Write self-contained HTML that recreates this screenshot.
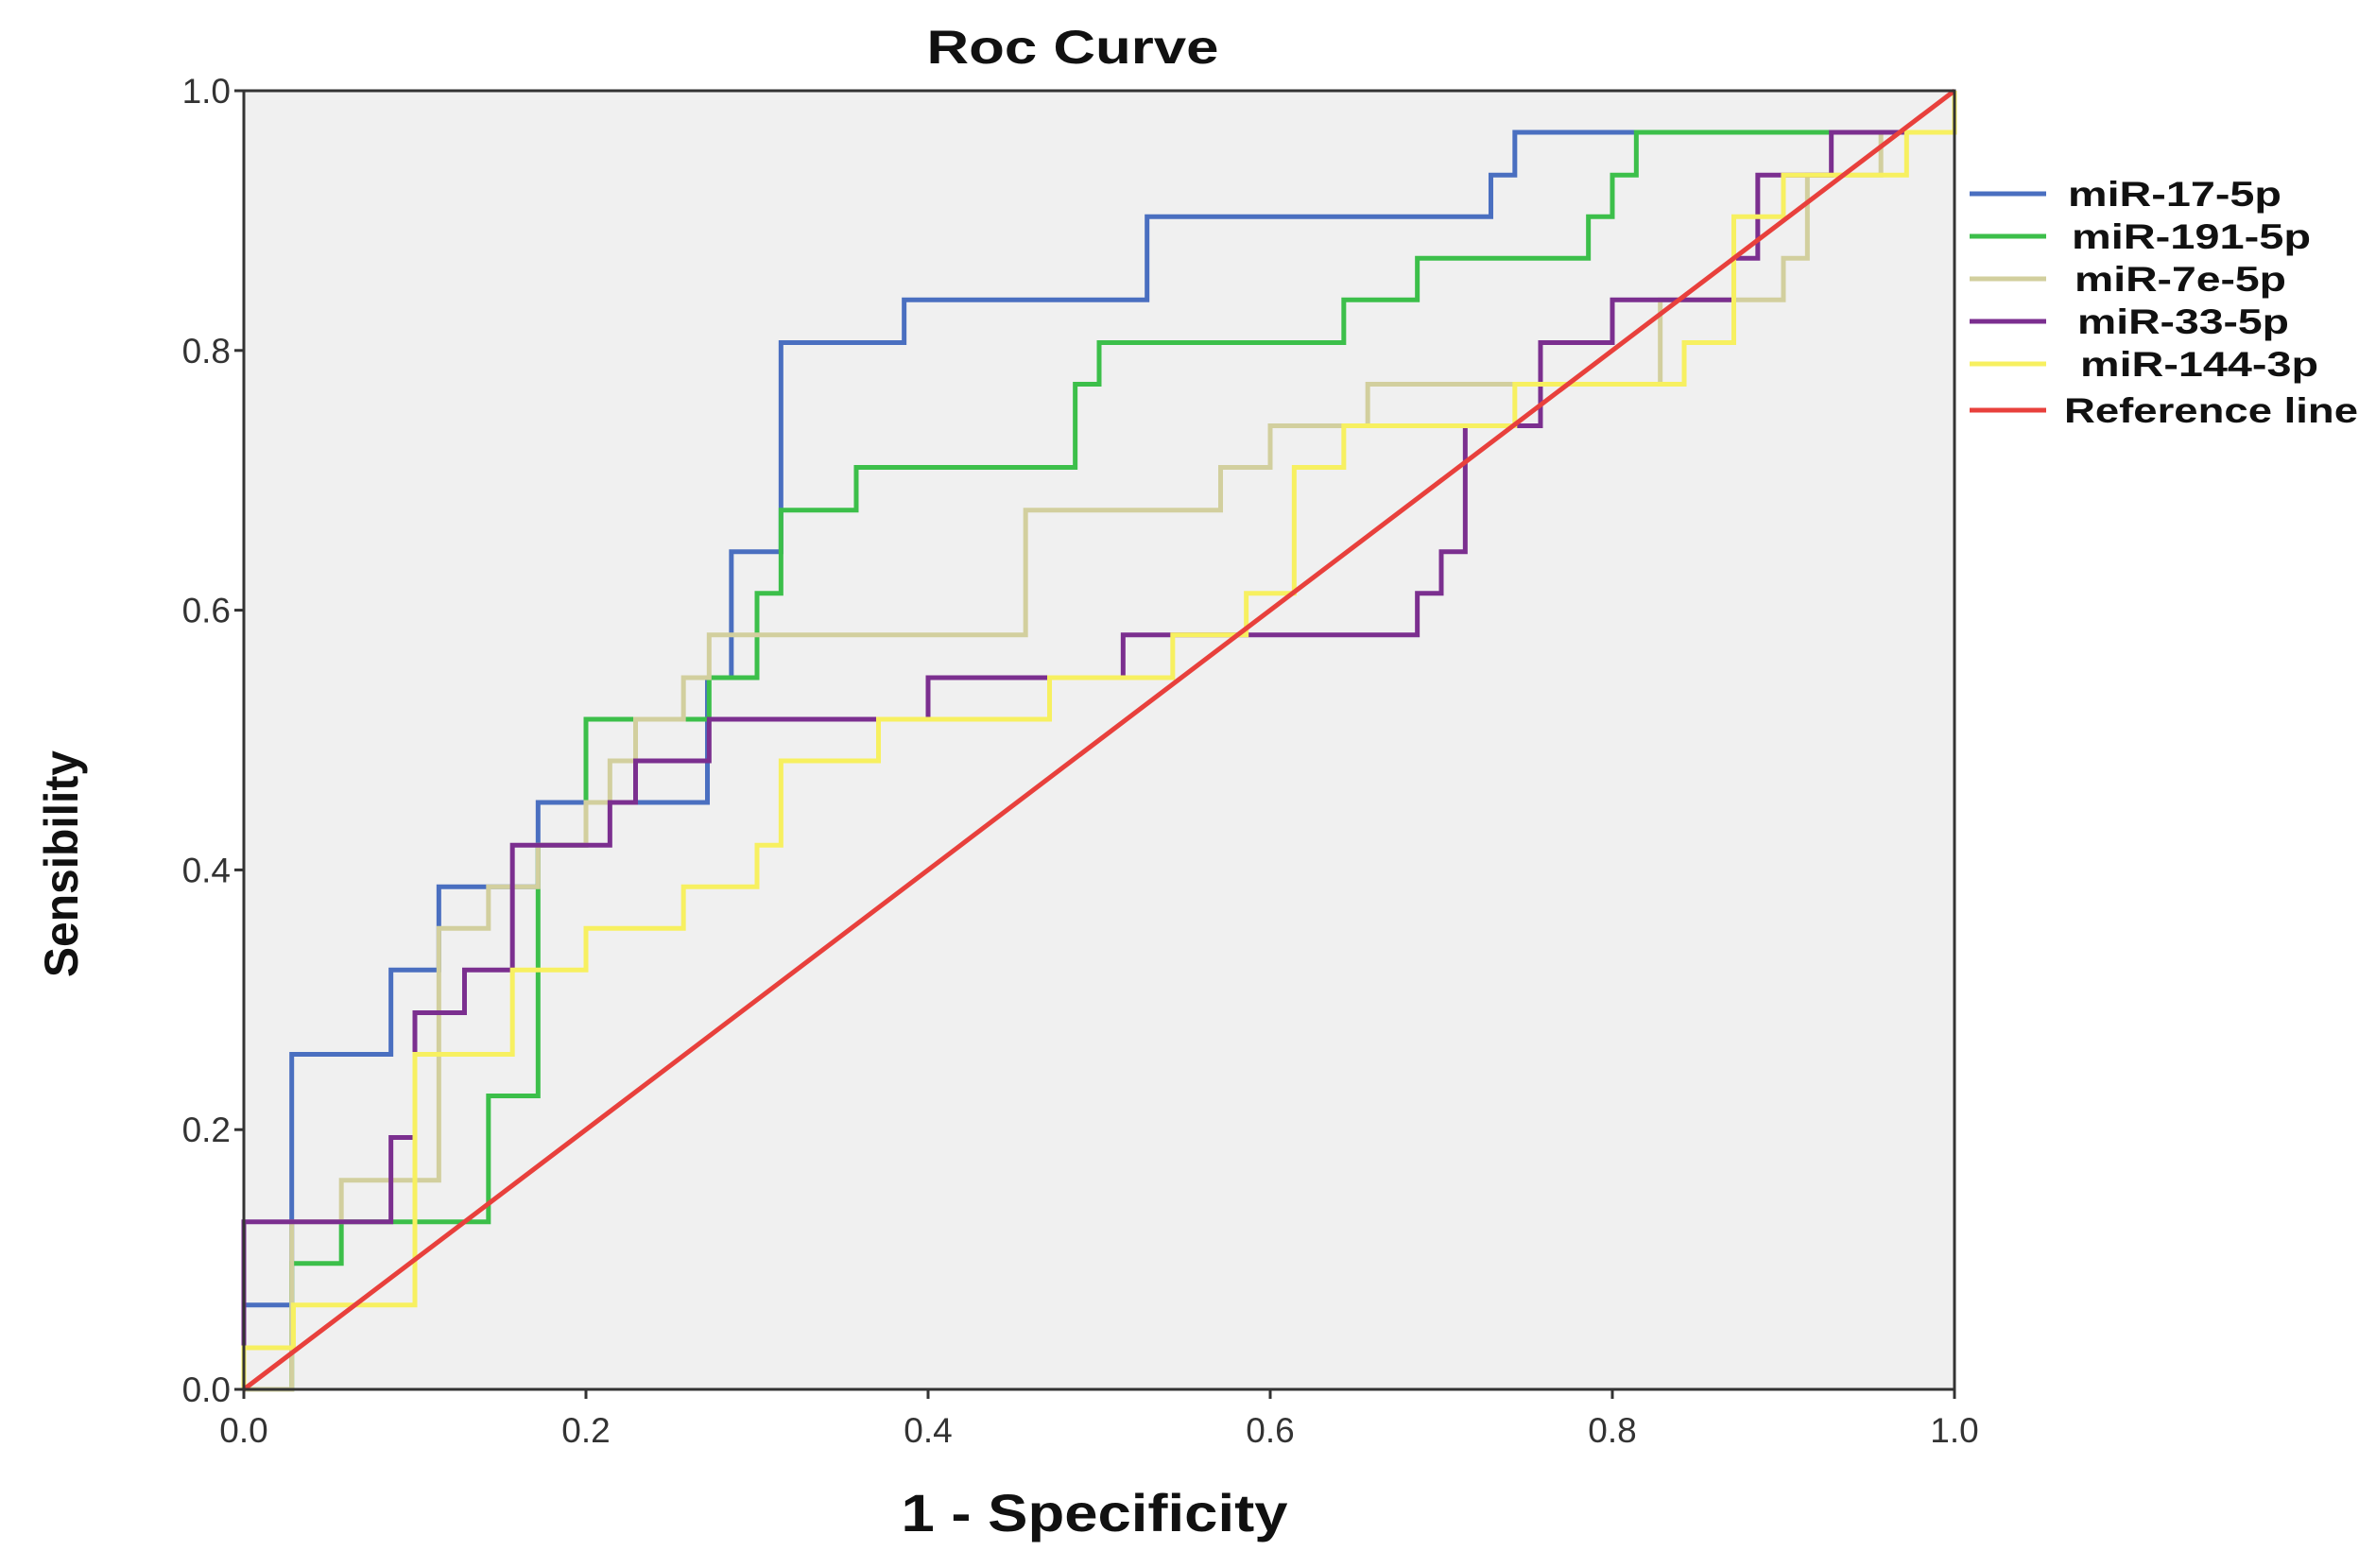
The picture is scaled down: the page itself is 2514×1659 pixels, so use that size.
<!DOCTYPE html>
<html><head><meta charset="utf-8"><style>
html,body{margin:0;padding:0;background:#fff}
svg{display:block}
text{font-family:"Liberation Sans",sans-serif}
</style></head><body>
<svg id="chart" width="2514" height="1659" viewBox="0 0 2514 1659" xmlns="http://www.w3.org/2000/svg">
<rect x="258" y="96" width="1810" height="1374" fill="#f0f0f0"/>
<g id="series"></g>
<rect x="258" y="96" width="1810" height="1374" fill="none" stroke="#333" stroke-width="3"/>
<g id="axes"></g>
<text x="1135" y="67" text-anchor="middle" font-size="50" font-weight="bold" fill="#111" textLength="309" lengthAdjust="spacingAndGlyphs">Roc Curve</text>
<text x="1158" y="1620" text-anchor="middle" font-size="56" font-weight="bold" fill="#111" textLength="409" lengthAdjust="spacingAndGlyphs">1 - Specificity</text>
<text transform="translate(82,914) rotate(-90)" text-anchor="middle" font-size="50" font-weight="bold" fill="#111" textLength="240" lengthAdjust="spacingAndGlyphs">Sensibility</text>
<g id="legend"></g>
</svg>
<script>
const seriesNames = ["miR-17-5p","miR-191-5p","miR-7e-5p","miR-33-5p","miR-144-3p"];
const seriesColors = ["#4a6fc0","#3cbf4a","#d2cf9e","#7b2f8f","#f7f060"];
const fpr17 = [0,0,0.028,0.086,0.114,0.172,0.271,0.285,0.314,0.386,0.528,0.729,0.743,1.0];
const tpr17 = [0,0.065,0.258,0.323,0.387,0.452,0.548,0.645,0.806,0.839,0.903,0.935,0.968,1.0];
const fpr191 = [0,0.028,0.057,0.143,0.172,0.2,0.272,0.3,0.314,0.358,0.486,0.5,0.643,0.686,0.786,0.8,0.814,1.0];
const tpr191 = [0,0.097,0.129,0.226,0.419,0.516,0.548,0.613,0.677,0.71,0.774,0.806,0.839,0.871,0.903,0.935,0.968,1.0];
const fpr7e = [0,0.028,0.057,0.114,0.143,0.172,0.2,0.214,0.229,0.257,0.272,0.457,0.571,0.6,0.657,0.828,0.9,0.914,0.957,1.0];
const tpr7e = [0,0.129,0.161,0.355,0.387,0.419,0.452,0.484,0.516,0.548,0.581,0.677,0.71,0.742,0.774,0.839,0.871,0.935,0.968,1.0];
const fpr33 = [0,0.086,0.1,0.129,0.157,0.214,0.229,0.272,0.4,0.514,0.686,0.7,0.714,0.758,0.8,0.871,0.885,0.928,1.0];
const tpr33 = [0.129,0.194,0.29,0.323,0.419,0.452,0.484,0.516,0.548,0.581,0.613,0.645,0.742,0.806,0.839,0.871,0.935,0.968,1.0];
const fpr144 = [0,0.029,0.1,0.157,0.2,0.257,0.3,0.314,0.371,0.471,0.543,0.586,0.614,0.643,0.743,0.842,0.871,0.9,0.972,1.0];
const tpr144 = [0.032,0.065,0.258,0.323,0.355,0.387,0.419,0.484,0.516,0.548,0.581,0.613,0.71,0.742,0.774,0.806,0.903,0.935,0.968,1.0];
const xTicks = ["0.0","0.2","0.4","0.6","0.8","1.0"];
const yTicks = ["0.0","0.2","0.4","0.6","0.8","1.0"];
const refLine = [0,1];

const NS="http://www.w3.org/2000/svg";
const L=258,R=2068,T=96,B=1470;
const sx=v=>L+v*(R-L), sy=v=>B-v*(B-T);
const seriesG=document.getElementById('series');
const fprs=[fpr17,fpr191,fpr7e,fpr33,fpr144], tprs=[tpr17,tpr191,tpr7e,tpr33,tpr144];
function mk(tag){return document.createElementNS(NS,tag);}
fprs.forEach((fx,i)=>{
  const ty=tprs[i];
  let d="M"+sx(0)+","+sy(0)+" V"+sy(ty[0]);
  if(fx[0]>0){d="M"+sx(0)+","+sy(0)+" H"+sx(fx[0])+" V"+sy(ty[0]);}
  for(let k=1;k<fx.length;k++){d+=" H"+sx(fx[k])+" V"+sy(ty[k]);}
  const p=mk('path');
  
  
  p.setAttribute('d',d);p.setAttribute('fill','none');
  p.setAttribute('stroke',seriesColors[i]);p.setAttribute('stroke-width','5');
  seriesG.appendChild(p);
});
const ref=mk('line');


ref.setAttribute('x1',sx(refLine[0]));ref.setAttribute('y1',sy(refLine[0]));
ref.setAttribute('x2',sx(refLine[1]));ref.setAttribute('y2',sy(refLine[1]));
ref.setAttribute('stroke','#e8403c');ref.setAttribute('stroke-width','5');
seriesG.appendChild(ref);

const axes=document.getElementById('axes');
xTicks.forEach((t,i)=>{
  const v=i/(xTicks.length-1);
  const ln=mk('line');
  
  
  ln.setAttribute('x1',sx(v));ln.setAttribute('x2',sx(v));ln.setAttribute('y1',B);ln.setAttribute('y2',B+10);
  ln.setAttribute('stroke','#333');ln.setAttribute('stroke-width','3');axes.appendChild(ln);
  const tx=mk('text');
  
  
  tx.setAttribute('x',sx(v));tx.setAttribute('y',B+56);tx.setAttribute('text-anchor','middle');
  tx.setAttribute('font-size','37');tx.setAttribute('fill','#333');tx.textContent=t;axes.appendChild(tx);
});
yTicks.forEach((t,i)=>{
  const v=i/(yTicks.length-1);
  const ln=mk('line');
  
  
  ln.setAttribute('x1',L-10);ln.setAttribute('x2',L);ln.setAttribute('y1',sy(v));ln.setAttribute('y2',sy(v));
  ln.setAttribute('stroke','#333');ln.setAttribute('stroke-width','3');axes.appendChild(ln);
  const tx=mk('text');
  
  
  tx.setAttribute('x',L-14);tx.setAttribute('y',sy(v)+13);tx.setAttribute('text-anchor','end');
  tx.setAttribute('font-size','37');tx.setAttribute('fill','#333');tx.textContent=t;axes.appendChild(tx);
});

const legend=document.getElementById('legend');
const legNames=seriesNames.concat(["Reference line"]);
const legColors=seriesColors.concat(["#e8403c"]);
const legY=[205,250,295,340,385,434];
const legX=[2188,2192,2195,2198,2201,2184];
const legW=[226,253,224,224,252,311];
legNames.forEach((n,i)=>{
  const ln=mk('line');
  
  
  ln.setAttribute('x1',2084);ln.setAttribute('x2',2165);ln.setAttribute('y1',legY[i]);ln.setAttribute('y2',legY[i]);
  ln.setAttribute('stroke',legColors[i]);ln.setAttribute('stroke-width','5');legend.appendChild(ln);
  const tx=mk('text');
  
  
  tx.setAttribute('x',legX[i]);tx.setAttribute('y',legY[i]+13);tx.setAttribute('font-size','37');
  tx.setAttribute('textLength',legW[i]);tx.setAttribute('lengthAdjust','spacingAndGlyphs');
  tx.setAttribute('font-weight','bold');tx.setAttribute('fill','#111');tx.textContent=n;legend.appendChild(tx);
});
</script>
</body></html>
